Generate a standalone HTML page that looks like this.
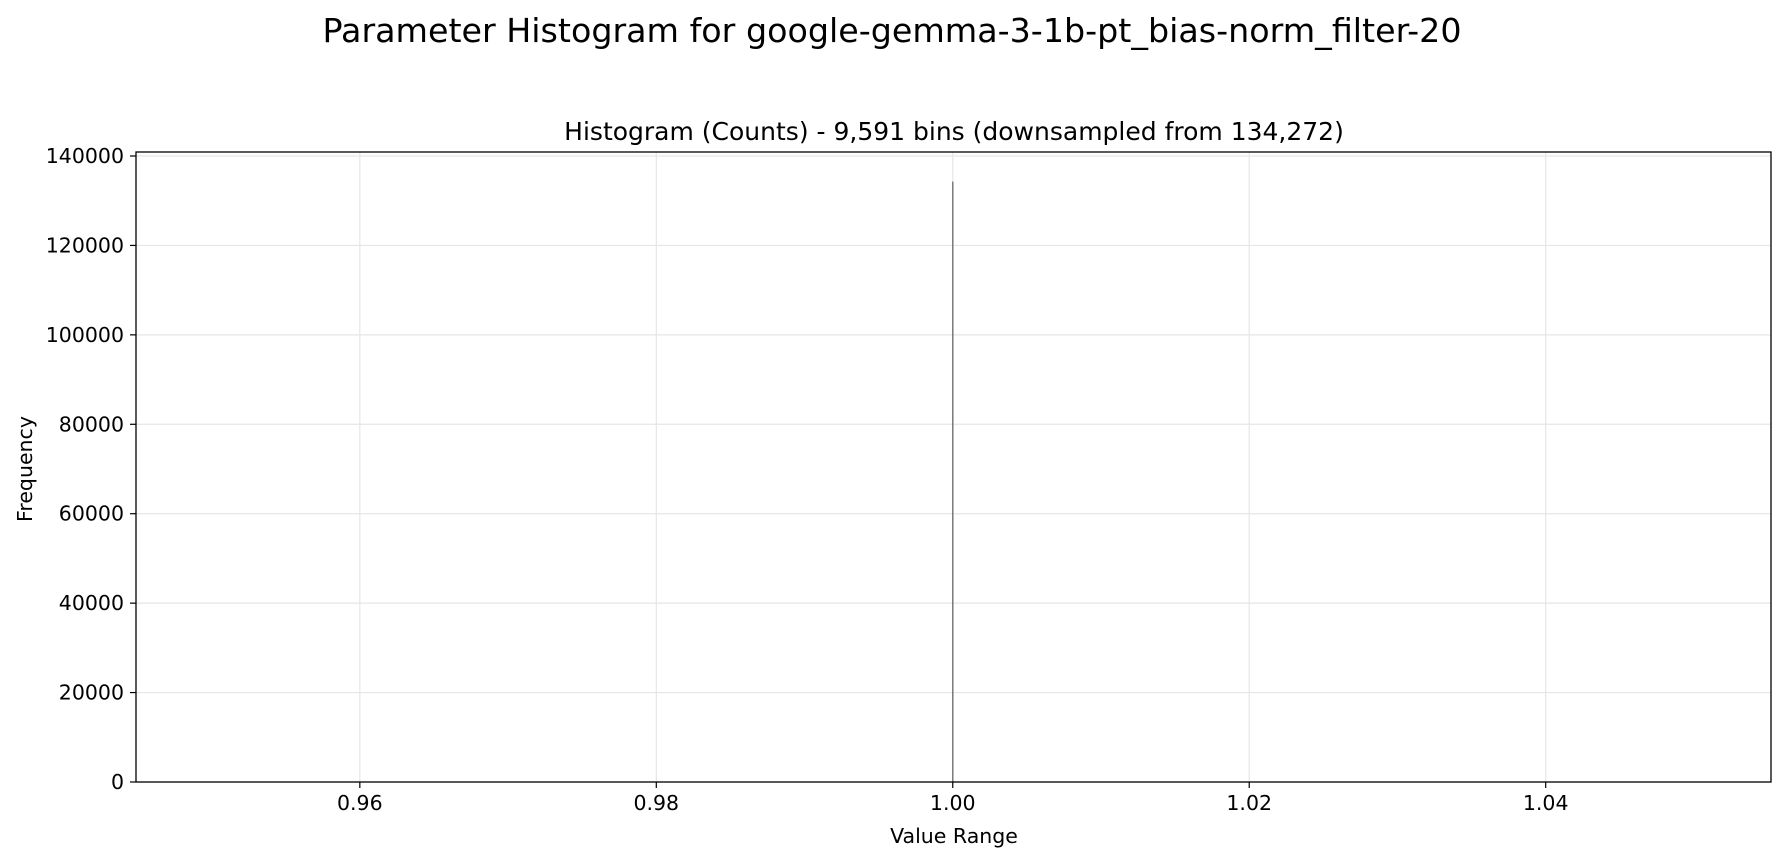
<!DOCTYPE html>
<html><head><meta charset="utf-8"><style>
body{margin:0;background:#fff;}
svg{display:block;font-family:"DejaVu Sans","Liberation Sans",sans-serif;}
</style></head><body>
<svg id="c" width="1784" height="860" viewBox="0 0 1784 860">
<text x="892" y="42" font-size="33.3" text-anchor="middle">Parameter Histogram for google-gemma-3-1b-pt_bias-norm_filter-20</text>
<text x="954" y="140" font-size="25" text-anchor="middle">Histogram (Counts) - 9,591 bins (downsampled from 134,272)</text>
<g id="grid"></g><g id="bars"></g><g id="axes"></g>
<text x="954" y="843" font-size="20.5" text-anchor="middle">Value Range</text>
<text transform="translate(32,469) rotate(-90)" font-size="20.5" text-anchor="middle">Frequency</text>
</svg>
<script>
const binCenters=[1.0];
const binCounts=[134272];
const xTicks=[0.96,0.98,1.00,1.02,1.04];
const yTicks=[0,20000,40000,60000,80000,100000,120000,140000];
const L=136,R=1771,T=152,B=782,xMin=0.9449,xMax=1.0552;
const sx=v=>L+(v-xMin)/(xMax-xMin)*(R-L);
const sy=v=>B-v/140000*(B-156);
const NS="http://www.w3.org/2000/svg";
function mk(t,a,p){const e=document.createElementNS(NS,t);for(const k in a)e.setAttribute(k,a[k]);p.appendChild(e);return e;}
const g=document.getElementById('grid'),b=document.getElementById('bars'),ax=document.getElementById('axes');
xTicks.forEach(v=>{const x=sx(v);
const l=mk('line',{x1:x,x2:x,y1:T,y2:B,stroke:'#e6e6e6','stroke-width':1.2},g);

mk('line',{x1:x,x2:x,y1:B,y2:B+6,stroke:'#000','stroke-width':1.2},ax);
const t=mk('text',{x:x,y:B+28,'font-size':20.5,'text-anchor':'middle'},ax);t.textContent=v.toFixed(2);
});
yTicks.forEach(v=>{const y=sy(v);
const l=mk('line',{x1:L,x2:R,y1:y,y2:y,stroke:'#e6e6e6','stroke-width':1.2},g);

mk('line',{x1:L-6,x2:L,y1:y,y2:y,stroke:'#000','stroke-width':1.2},ax);
const t=mk('text',{x:L-12,y:y+7,'font-size':20.5,'text-anchor':'end'},ax);t.textContent=v;
});
binCenters.forEach((c,i)=>{const x=sx(c),y=sy(binCounts[i]);
const r=mk('rect',{x:x-0.6,y:y,width:1.3,height:B-y,fill:'#666'},b);
});
const f=mk('rect',{x:L,y:T,width:R-L,height:B-T,fill:'none',stroke:'#000','stroke-width':1.3},ax);

</script>
</body></html>
